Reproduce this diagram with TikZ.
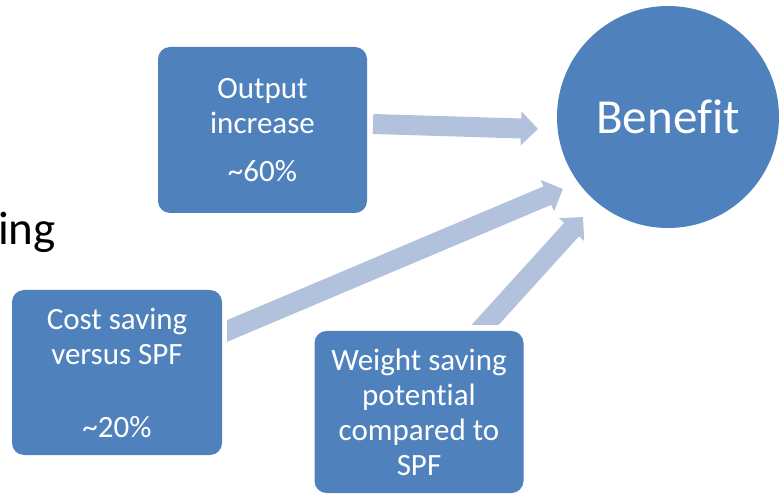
\documentclass[tikz,border=0pt]{standalone}
\usepackage{fontspec}
\setmainfont[Ligatures=NoCommon]{Carlito}
\usetikzlibrary{arrows.meta}
\definecolor{boxblue}{HTML}{4F81BD}
\definecolor{arrowblue}{HTML}{B3C2DC}
\begin{document}
\begin{tikzpicture}[x=1pt,y=-1pt,
  box/.style={fill=boxblue, rounded corners=12pt, text=white, align=center,
    inner sep=0pt, font=\fontsize{31}{35}\selectfont},
  blockarrow/.style={draw=arrowblue, line width=20pt, line cap=butt,
    -{Triangle[width=33pt,length=17pt]}}]
\fill[white] (0,0) rectangle (782,494);
\useasboundingbox (0,0) rectangle (782,494);

\node[anchor=base east, inner sep=0pt, font=\fontsize{47}{55}\selectfont] (title) at (56,245) {ing};

\node[box, minimum width=209pt, minimum height=166pt] (out) at (262.5,130)
  {Output\\increase\\[13pt]\textasciitilde 60\%};
\node[box, minimum width=210pt, minimum height=165pt] (cost) at (117,372.5)
  {Cost saving\\versus SPF\\[38pt]\textasciitilde 20\%};
\node[box, minimum width=209pt, minimum height=162pt] (weight) at (419,412)
  {Weight saving\\potential\\compared to\\SPF};
\node[circle, fill=boxblue, minimum size=222pt, inner sep=0pt, text=white,
  font=\fontsize{49}{58}\selectfont] (benefit) at (668,117) {Benefit};

\coordinate (a1s) at (373,124);
\coordinate (a1e) at (538,129);
\coordinate (a2s) at (210,338.2);
\coordinate (a2e) at (563,189);
\coordinate (a3s) at (471.4,340);
\coordinate (a3e) at (583,217);

\draw[blockarrow] (a1s) -- (a1e);
\begin{scope}
  \clip (227,0) rectangle (782,494);
  \draw[blockarrow] (a2s) -- (a2e);
\end{scope}
\begin{scope}
  \clip (0,0) rectangle (782,325);
  \draw[blockarrow] (a3s) -- (a3e);
\end{scope}
\end{tikzpicture}
\end{document}
